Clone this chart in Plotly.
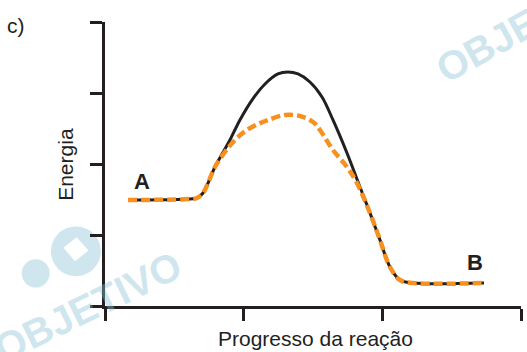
import plotly.graph_objects as go

# reaction coordinate / energy readings (arbitrary units)
x_uncat = [0.166, 0.613, 0.663, 0.707, 0.743, 0.793, 0.844, 0.901, 0.973, 1.060, 1.154,
           1.247, 1.319, 1.392, 1.478, 1.565, 1.644, 1.745, 1.839, 1.911, 1.983, 2.055,
           2.127, 2.221, 2.733]
y_uncat = [1.493, 1.507, 1.521, 1.592, 1.732, 1.958, 2.141, 2.338, 2.620, 2.901, 3.127,
           3.268, 3.296, 3.268, 3.155, 2.944, 2.620, 2.155, 1.676, 1.310, 0.930, 0.549,
           0.366, 0.324, 0.324]

x_cat = [0.166, 0.613, 0.663, 0.707, 0.743, 0.793, 0.887, 0.952, 1.024, 1.103,
         1.175, 1.298, 1.406, 1.500, 1.550, 1.644, 1.745, 1.817, 1.911, 1.983, 2.055,
         2.127, 2.221, 2.733]
y_cat = [1.493, 1.507, 1.521, 1.592, 1.732, 1.958, 2.225, 2.366, 2.479, 2.563,
         2.620, 2.690, 2.676, 2.592, 2.479, 2.197, 1.958, 1.732, 1.310, 0.930, 0.549,
         0.366, 0.324, 0.324]

x_ticks = [0, 1, 2, 3]
y_ticks = [0, 1, 2, 3, 4]

WM = "rgba(140,195,215,0.42)"
FONT = "Liberation Sans, Arial, sans-serif"

fig = go.Figure()
fig.add_trace(go.Scatter(
    x=x_uncat, y=y_uncat, mode="lines", line=dict(color="#231f20", width=3, shape="spline"),
    hoverinfo="skip",
))
fig.add_trace(go.Scatter(
    x=x_cat, y=y_cat, mode="lines",
    line=dict(color="#f7901e", width=4.5, shape="spline", dash="9px,4px"),
    hoverinfo="skip",
))

axis_style = dict(
    showgrid=False, zeroline=False, showline=True, linecolor="#231f20", linewidth=2.5,
    ticks="outside", ticklen=12, tickwidth=2.5, tickcolor="#231f20",
    showticklabels=False,
)

fig.update_layout(
    width=527, height=352,
    margin=dict(l=105, r=6, t=22, b=46),
    plot_bgcolor="rgba(0,0,0,0)", paper_bgcolor="white",
    showlegend=False,
    font=dict(family=FONT, color="#231f20"),
    xaxis=dict(range=[0, 3], tickvals=x_ticks, **axis_style),
    yaxis=dict(range=[0, 4], tickvals=y_ticks, **axis_style),
)

# faint "OBJETIVO" watermarks
for wx, wy, ang in [(-0.041, -0.004, -26), (1.016, 0.996, -29)]:
    fig.add_annotation(text="<b>OBJETIVO</b>", xref="paper", yref="paper", x=wx, y=wy,
                       xanchor="center", yanchor="middle", showarrow=False, textangle=ang,
                       font=dict(size=40, color=WM, family=FONT))
# logo blobs
fig.add_shape(type="circle", xref="paper", yref="paper", x0=-0.130, x1=-0.010,
              y0=0.105, y1=0.280, fillcolor=WM, line_width=0, layer="below")
fig.add_shape(type="path", xref="paper", yref="paper",
              path="M -0.100,0.205 L -0.068,0.242 L -0.040,0.195 L -0.072,0.158 Z",
              fillcolor="white", line_width=0, layer="below")
fig.add_shape(type="circle", xref="paper", yref="paper", x0=-0.200, x1=-0.133,
              y0=0.065, y1=0.165, fillcolor=WM, line_width=0, layer="below")

# labels
fig.add_annotation(text="<b>A</b>", x=0.27, y=1.75, showarrow=False,
                   font=dict(size=22))
fig.add_annotation(text="<b>B</b>", x=2.67, y=0.61, showarrow=False,
                   font=dict(size=22))
fig.add_annotation(text="c)", xref="paper", yref="paper", x=-0.214, y=0.987, xanchor="center",
                   yanchor="middle", showarrow=False, font=dict(size=21))
fig.add_annotation(text="Energia", xref="paper", yref="paper", x=-0.0966, y=0.50,
                   xanchor="center", yanchor="middle",
                   textangle=-90, showarrow=False, font=dict(size=21))
fig.add_annotation(text="Progresso da reação", xref="paper", yref="paper", x=0.505, y=-0.113,
                   xanchor="center", yanchor="middle", showarrow=False, font=dict(size=21))

fig.write_html("out.html", post_script="document.body.style.margin='0';",
               config={"displayModeBar": False})
